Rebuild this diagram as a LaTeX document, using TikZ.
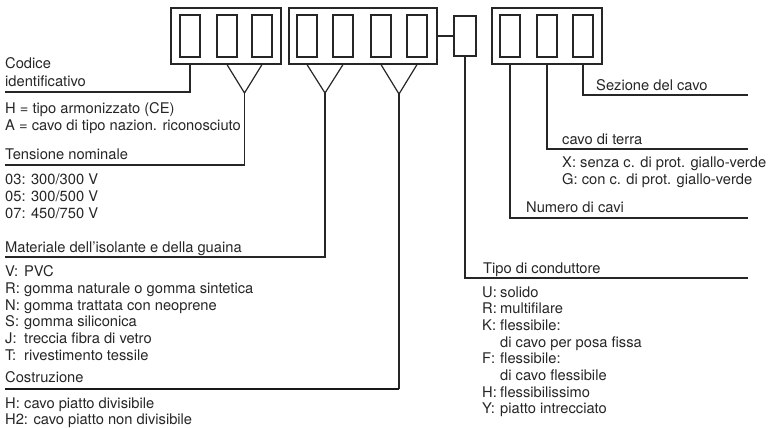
\documentclass[tikz,border=0pt]{standalone}
\usepackage{fontspec}
\setmainfont{TeX Gyre Heros}

\tikzset{
  gruppo/.style={draw=black!85, line width=1.2pt, minimum width=110pt, minimum height=56pt, inner sep=0pt},
  cella/.style={draw=black!85, line width=1.2pt, minimum width=20pt, minimum height=42pt, inner sep=0pt},
  voce/.style={anchor=base west, inner sep=0pt, font=\fontsize{14.7}{16.7}\selectfont, text=black!85},
  filo/.style={line width=1.2pt, draw=black!85},
}

\begin{document}
\begin{tikzpicture}[x=1pt, y=-1pt]
  \useasboundingbox (0,0) rectangle (776,428);

  % caselle del codice
  \node[gruppo] (g1) at (226,36) {};
  \node[cella] (c11) at (190,36) {};
  \node[cella] (c12) at (227,36) {};
  \node[cella] (c13) at (262,36) {};
  \node[gruppo, minimum width=148pt] (g2) at (363,36) {};
  \node[cella] (c21) at (307,36) {};
  \node[cella] (c22) at (343,36) {};
  \node[cella] (c23) at (381,36) {};
  \node[cella] (c24) at (417,36) {};
  \node[cella, minimum width=22pt, minimum height=40pt] (s) at (465,36) {};
  \node[gruppo] (g3) at (547,36) {};
  \node[cella] (c31) at (510,36) {};
  \node[cella] (c32) at (547,36) {};
  \node[cella] (c33) at (583,36) {};
  \draw[filo] (g2.east) -- (s.west);

  % punti dei richiami
  \coordinate (v1) at (244.5,93);
  \coordinate (v2) at (325,93);
  \coordinate (v3) at (399,94);
  \coordinate (e1) at (5,92);
  \coordinate (e2) at (5,165);
  \coordinate (e3) at (5,257);
  \coordinate (e4) at (5,389);
  \coordinate (f1) at (748,95);
  \coordinate (f2) at (748,149);
  \coordinate (f3) at (748,218);
  \coordinate (f4) at (748,278);

  % richiami a sinistra
  \draw[filo] (g1.south -| c11) |- (e1);
  \draw[filo] (g1.south -| c12) -- (v1) -- (g1.south -| c13);
  \draw[filo] (v1) |- (e2);
  \draw[filo] (g2.south -| c21) -- (v2) -- (g2.south -| c22);
  \draw[filo] (v2) |- (e3);
  \draw[filo] (g2.south -| c23) -- (v3) -- (g2.south -| c24);
  \draw[filo] (v3) -- (v3 |- e4);
  \draw[line width=2.8pt, black!90] (v3 |- e4) -- (e4);

  % richiami a destra
  \draw[filo] (g3.south -| c33) |- (f1);
  \draw[filo] (g3.south -| c32) |- (f2);
  \draw[filo] (g3.south -| c31) |- (f3);
  \draw[filo] (s.south) |- (f4);

  % testi a sinistra
  \node[voce] (cod1) at (5,69) {Codice};
  \node[voce] (cod2) at (5,86) {identificativo};
  \node[voce] (arm) at (5,113) {H = tipo armonizzato (CE)};
  \node[voce] (naz) at (5,130) {A = cavo di tipo nazion. riconosciuto};
  \node[voce] (ten) at (5,159) {Tensione nominale};
  \foreach \t [count=\i] in {03: 300/300 V, 05: 300/500 V, 07: 450/750 V}
    \node[voce] (ten\i) at (5,{168+16.7*\i}) {\t};
  \node[voce] (mat) at (5,252) {Materiale dell’isolante e della guaina};
  \foreach \k/\t [count=\i] in {V:/PVC, R:/gomma naturale o gomma sintetica,
      N:/gomma trattata con neoprene, S:/gomma siliconica,
      J:/treccia fibra di vetro, T:/rivestimento tessile}
    \node[voce] (mat\i) at (5,{260+16.7*\i}) {\makebox[19pt][l]{\k}\t};
  \node[voce] (cos) at (5,382) {Costruzione};
  \node[voce] (cos1) at (5,408) {\makebox[19pt][l]{H:}cavo piatto divisibile};
  \node[voce] (cos2) at (5,424.7) {H2: cavo piatto non divisibile};

  % testi a destra
  \node[voce] (sez) at (596,90) {Sezione del cavo};
  \node[voce] (ter) at (562,144) {cavo di terra};
  \node[voce] (ter1) at (562,167) {X: senza c. di prot. giallo-verde};
  \node[voce] (ter2) at (562,184) {G: con c. di prot. giallo-verde};
  \node[voce] (num) at (526,212) {Numero di cavi};
  \node[voce] (con) at (483,273) {Tipo di conduttore};
  \foreach \k/\t [count=\i] in {U:/solido, R:/multifilare, K:/flessibile:,
      /di cavo per posa fissa, F:/flessibile:, /di cavo flessibile,
      H:/flessibilissimo, Y:/piatto intrecciato}
    \node[voce] (con\i) at (482,{280.3+16.7*\i}) {\makebox[18pt][l]{\k}\t};
\end{tikzpicture}
\end{document}
